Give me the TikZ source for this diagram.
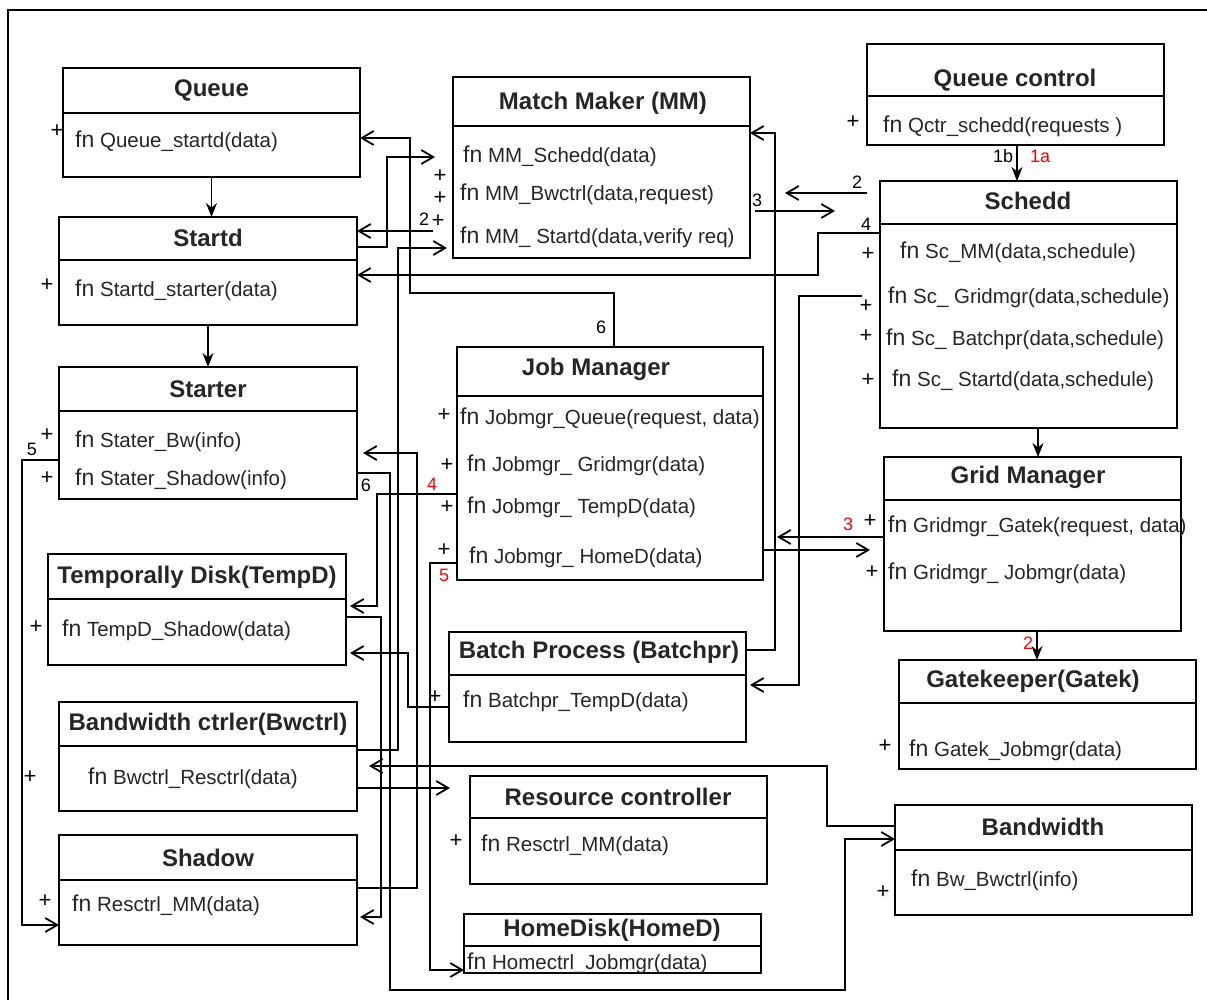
\documentclass[tikz,border=0pt]{standalone}
\usepackage{fontspec}
\setmainfont{Liberation Sans}
\usetikzlibrary{arrows.meta}
\tikzset{
 cb/.style={draw, line width=1.6pt, inner sep=0pt, outer sep=0pt},
 ttl/.style={font=\bfseries\fontsize{24}{26}\selectfont, text=black!85, inner sep=0pt},
 fnl/.style={anchor=west, inner sep=0pt, font=\fontsize{20.5}{22}\selectfont, text=black!85},
 pl/.style={inner sep=0pt, font=\fontsize{22}{24}\selectfont},
 num/.style={inner sep=0pt, font=\fontsize{18}{20}\selectfont},
 rnum/.style={num, text=red},
 con/.style={line width=1.5pt},
 arr/.style={con, -{Straight Barb[length=12pt,width=14pt,line width=1.8pt]}},
 varr/.style={con, -{Stealth[length=14pt,width=11pt]}},
}
\newcommand\fnw{{\fontsize{23}{24}\selectfont fn}}
\newcommand\umlbox[9]{%
  \node[cb, anchor=north west, minimum width={(#4)-(#2)}, minimum height={(#5)-(#3)}] (#1) at (#2,#3) {};
  \draw[line width=1.6pt] (#2,#6) -- (#4,#6);
  \node[ttl] (#1t) at (#7,#8) {#9};
}
\begin{document}
\begin{tikzpicture}[x=1pt,y=-1pt]
\useasboundingbox (0,0) rectangle (1207,1000);
\fill[white] (0,0) rectangle (1207,1000);
% frame
\draw[line width=1.6pt] (8,1000) -- (8,10) -- (1207,10);

% boxes
\umlbox{q}{63}{68}{360}{177}{113}{211.5}{90}{Queue}
\umlbox{sd}{59}{217}{357}{325}{260}{208}{238}{Startd}
\umlbox{st}{59}{367}{357}{499}{411}{208}{389}{Starter}
\umlbox{td}{48}{554}{346}{665}{599}{197}{577}{Temporally Disk(TempD)}
\umlbox{bc}{59}{702}{357}{811}{746}{208}{724}{Bandwidth ctrler(Bwctrl)}
\umlbox{sh}{59}{835}{357}{945}{880}{208}{858}{Shadow}
\umlbox{mm}{453}{77}{750}{258}{126}{603}{103}{Match Maker (MM)}
\umlbox{jm}{457}{347}{763}{580}{396}{596}{369}{Job Manager}
\umlbox{bp}{449}{632}{746}{742}{675}{599}{652}{Batch Process (Batchpr)}
\umlbox{rc}{470}{776}{767}{884}{818}{618}{797}{Resource controller}
\umlbox{hd}{464}{914}{761}{973}{946}{612}{930}{HomeDisk(HomeD)}
\umlbox{qc}{867}{44}{1164}{145}{96}{1015}{80}{Queue control}
\umlbox{sc}{880}{181}{1177}{428}{224}{1028}{201}{Schedd}
\umlbox{gm}{884}{457}{1181}{631}{500}{1028}{477}{Grid Manager}
\umlbox{gk}{899}{660}{1196}{769}{703}{1033}{681}{Gatekeeper(Gatek)}
\umlbox{bw}{895}{805}{1192}{915}{850}{1043}{827}{Bandwidth}

% body lines
\node[fnl] (q1) at (75,141) {\fnw\ Queue\_startd(data)};
\node[pl] (qp1) at (57,131) {+};
\node[fnl] (sd1) at (75,290) {\fnw\ Startd\_starter(data)};
\node[pl] (sdp1) at (47,285) {+};
\node[fnl] (st1) at (75,441) {\fnw\ Stater\_Bw(info)};
\node[fnl] (st2) at (75,479) {\fnw\ Stater\_Shadow(info)};
\node[pl] (stp1) at (47,435) {+};
\node[pl] (stp2) at (47,478) {+};
\node[num] (l5a) at (32,449) {5};
\node[fnl] (td1) at (62,630) {\fnw\ TempD\_Shadow(data)};
\node[pl] (tdp1) at (36,627) {+};
\node[fnl] (bc1) at (88,778) {\fnw\ Bwctrl\_Resctrl(data)};
\node[pl] (bcp1) at (30,777) {+};
\node[fnl] (sh1) at (72,905) {\fnw\ Resctrl\_MM(data)};
\node[pl] (shp1) at (45,901) {+};

\node[fnl] (mm1) at (463,156) {\fnw\ MM\_Schedd(data)};
\node[fnl] (mm2) at (460,194) {\fnw\ MM\_Bwctrl(data,request)};
\node[fnl] (mm3) at (460,237) {\fnw\ MM\_ Startd(data,verify req)};
\node[pl] (mmp1) at (440,176) {+};
\node[pl] (mmp2) at (440,198) {+};
\node[pl] (mmp3) at (438,221) {+};
\node[num] (l2a) at (424,219) {2};

\node[fnl] (jm1) at (460,418) {\fnw\ Jobmgr\_Queue(request, data)};
\node[fnl] (jm2) at (467,465) {\fnw\ Jobmgr\_ Gridmgr(data)};
\node[fnl] (jm3) at (467,507) {\fnw\ Jobmgr\_ TempD(data)};
\node[fnl] (jm4) at (469,557) {\fnw\ Jobmgr\_ HomeD(data)};
\node[pl] (jmp1) at (444,415) {+};
\node[pl] (jmp2) at (447,465) {+};
\node[pl] (jmp3) at (447,507) {+};
\node[pl] (jmp4) at (444,550) {+};
\node[rnum] (l4r) at (432,484) {4};
\node[rnum] (l5r) at (444,575) {5};

\node[fnl] (bp1) at (463,701) {\fnw\ Batchpr\_TempD(data)};
\node[pl] (bpp1) at (435,697) {+};
\node[fnl] (rc1) at (481,845) {\fnw\ Resctrl\_MM(data)};
\node[pl] (rcp1) at (456,841) {+};
\node[fnl] (hd1) at (467,963) {\fnw\ Homectrl\_Jobmgr(data)};

\node[fnl] (qc1) at (883,126) {\fnw\ Qctr\_schedd(requests )};
\node[pl] (qcp1) at (853,122) {+};
\node[fnl] (sc1) at (900,252) {\fnw\ Sc\_MM(data,schedule)};
\node[fnl] (sc2) at (888,297) {\fnw\ Sc\_ Gridmgr(data,schedule)};
\node[fnl] (sc3) at (886,339) {\fnw\ Sc\_ Batchpr(data,schedule)};
\node[fnl] (sc4) at (892,380) {\fnw\ Sc\_ Startd(data,schedule)};
\node[pl] (scp1) at (868,254) {+};
\node[pl] (scp2) at (866,306) {+};
\node[pl] (scp3) at (866,336) {+};
\node[pl] (scp4) at (868,380) {+};
\node[num] (l4b) at (866,224) {4};
\node[num] (l2b) at (857,182) {2};
\node[num] (l3b) at (757,200) {3};

\node[fnl] (gm1) at (888,526) {\fnw\ Gridmgr\_Gatek(request, data)};
\node[fnl] (gm2) at (888,573) {\fnw\ Gridmgr\_ Jobmgr(data)};
\node[pl] (gmp1) at (870,521) {+};
\node[pl] (gmp2) at (872,572) {+};
\node[rnum] (l3r) at (848,524) {3};

\node[fnl] (gk1) at (909,750) {\fnw\ Gatek\_Jobmgr(data)};
\node[pl] (gkp1) at (885,746) {+};
\node[fnl] (bw1) at (911,880) {\fnw\ Bw\_Bwctrl(info)};
\node[pl] (bwp1) at (883,892) {+};

\node[num] (l1b) at (1003,156) {1b};
\node[rnum] (l1a) at (1040,156) {1a};
\node[num] (l6a) at (601,327) {6};
\node[num] (l6b) at (366,485) {6};
\node[rnum] (l2r) at (1028,643) {2};

% vertical connectors
\draw[varr] (q.south) -- (q.south |- sd.north);
\draw[varr] (sd.south) -- (sd.south |- st.north);
\draw[varr] (qc.south -| 1017,0) -- (sc.north -| 1017,0);
\draw[varr] (sc.south -| 1038,0) -- (gm.north -| 1038,0);
\draw[varr] (gm.south -| 1037,0) -- (gk.north -| 1037,0);

% orthogonal connectors
\draw[arr] (jm.north -| 614,0) |- (410,293) |- (q.east |- 0,138);
\draw[arr, shorten >=18pt] (sd.east |- 0,247) -- (387,247) |- (mm.west |- 0,157);
\draw[arr, shorten <=20pt] (mm.west |- 0,231) -- (sd.east |- 0,231);
\draw[arr, shorten >=6pt] (bc.east |- 0,750) -- (398,750) |- (mm.west |- 0,248);
\draw[arr, shorten >=12pt] (bw.west |- 0,826) -- (827,826) |- (bc.east |- 0,766);
\draw[arr, shorten >=20pt] (bc.east |- 0,788) -- (rc.west |- 0,788);
\draw[arr, shorten >=6pt] (sh.east |- 0,888) -- (417,888) |- (st.east |- 0,453);
\draw[arr, shorten >=3pt] (td.east |- 0,617) -- (381,617) |- (sh.east |- 0,917);
\draw[arr] (st.east |- 0,473) -- (390,473) |- (845,990) |- (bw.west |- 0,839);
\draw[arr, shorten >=4pt] (bp.west |- 0,707) -- (408,707) |- (td.east |- 0,653);
\draw[arr] (jm.west |- 0,563) -- (430,563) |- (hd.west |- 0,970);
\draw[arr, shorten >=4pt] (jm.west |- 0,494) -- (377,494) |- (td.east |- 0,606);
\draw[arr] (st.west |- 0,460) -- (22,460) |- (sh.west |- 0,925);
\draw[arr] (bp.east |- 0,650) -- (775,650) |- (mm.east |- 0,133);
\draw[arr, shorten <=13pt, shorten >=35pt] (sc.west |- 0,193) -- (mm.east |- 0,193);
\draw[arr, shorten <=5pt, shorten >=45pt] (mm.east |- 0,211) -- (sc.west |- 0,211);
\draw[arr] (sc.west |- 0,233) -- (818,233) |- (sd.east |- 0,275);
\draw[arr, shorten <=18pt, shorten >=4pt] (sc.west |- 0,296) -- (799,296) |- (bp.east |- 0,685);
\draw[arr, shorten >=14pt] (gm.west |- 0,537) -- (jm.east |- 0,537);
\draw[arr, shorten >=14pt] (jm.east |- 0,550) -- (gm.west |- 0,550);
\end{tikzpicture}
\end{document}
